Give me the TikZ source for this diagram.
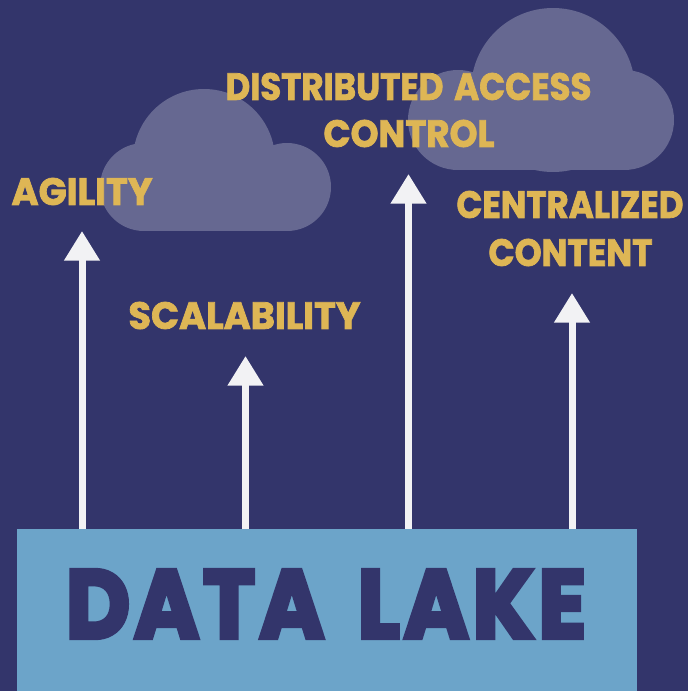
\documentclass[tikz,border=0pt]{standalone}
\usepackage{fontspec}
\usepackage{graphicx}
\setmainfont{Poppins}[BoldFeatures={FakeBold=2}]
\newfontfamily\lakefont{Poppins}[UprightFeatures={LetterSpace=4.5,FakeBold=4.5},UprightFont=* Bold]
\usetikzlibrary{arrows.meta}
\definecolor{bgnavy}{HTML}{33356B}
\definecolor{lakeblue}{HTML}{6CA4C9}
\definecolor{gold}{HTML}{DEB655}
\definecolor{cloudgrey}{HTML}{666891}
\definecolor{arrowwhite}{HTML}{F2F2F4}
\newcommand{\lab}[3]{\resizebox{#1pt}{#2pt}{\bfseries #3}}
\newcommand{\lakelab}[3]{\resizebox{#1pt}{#2pt}{\lakefont #3}}
\tikzset{
  x=1pt, y=-1pt,
  label text/.style={text=gold, inner sep=0pt, outer sep=0pt},
  cloud fill/.style={fill=cloudgrey},
  up arrow/.style={draw=arrowwhite, line width=7pt,
    -{Triangle[width=34pt,length=29.5pt,fill=arrowwhite]}},
}
\begin{document}
\begin{tikzpicture}
\path[use as bounding box, fill=bgnavy] (0,0) rectangle (688,691);
% clouds
\fill[cloud fill] (287,187) circle[radius=44];
\fill[cloud fill] (144,187) circle[radius=44];
\fill[cloud fill] (144,165) rectangle (287,231);
\fill[cloud fill] (204,160) circle[radius=71];
\fill[cloud fill] (458,120) circle[radius=50];
\fill[cloud fill] (624,120) circle[radius=50];
\fill[cloud fill] (458,105) rectangle (624,170);
\fill[cloud fill] (553,90) circle[radius=82];
% lake
\node[fill=lakeblue, inner sep=0pt, outer sep=0pt, minimum width=620pt, minimum height=162pt] (lake) at (327,610) {};
\node[text=bgnavy, inner sep=0pt] (laketext) at (326,604) {\lakelab{520}{68}{DATA\hspace{0.12em} LAKE}};
% arrows
\coordinate (tipa) at (82,231);
\coordinate (tipb) at (245.5,356);
\coordinate (tipc) at (408.5,174);
\coordinate (tipd) at (572,293);
\draw[up arrow] (tipa |- lake.north) -- (tipa);
\draw[up arrow] (tipb |- lake.north) -- (tipb);
\draw[up arrow] (tipc |- lake.north) -- (tipc);
\draw[up arrow] (tipd |- lake.north) -- (tipd);
% labels
\node[label text] (agility) at (82,191.5) {\lab{141}{27}{AGILITY}};
\node[label text] (scal) at (244.5,315.5) {\lab{232}{27}{SCALABILITY}};
\node[label text] (dist) at (408.5,86.5) {\lab{366}{27}{DISTRIBUTED\hspace{0.1em} ACCESS}};
\node[label text] (ctrl) at (409,133.5) {\lab{171}{27}{CONTROL}};
\node[label text] (cent) at (570,204.5) {\lab{227}{27}{CENTRALIZED}};
\node[label text] (cont) at (570.5,252.5) {\lab{164}{27}{CONTENT}};
\end{tikzpicture}
\end{document}
